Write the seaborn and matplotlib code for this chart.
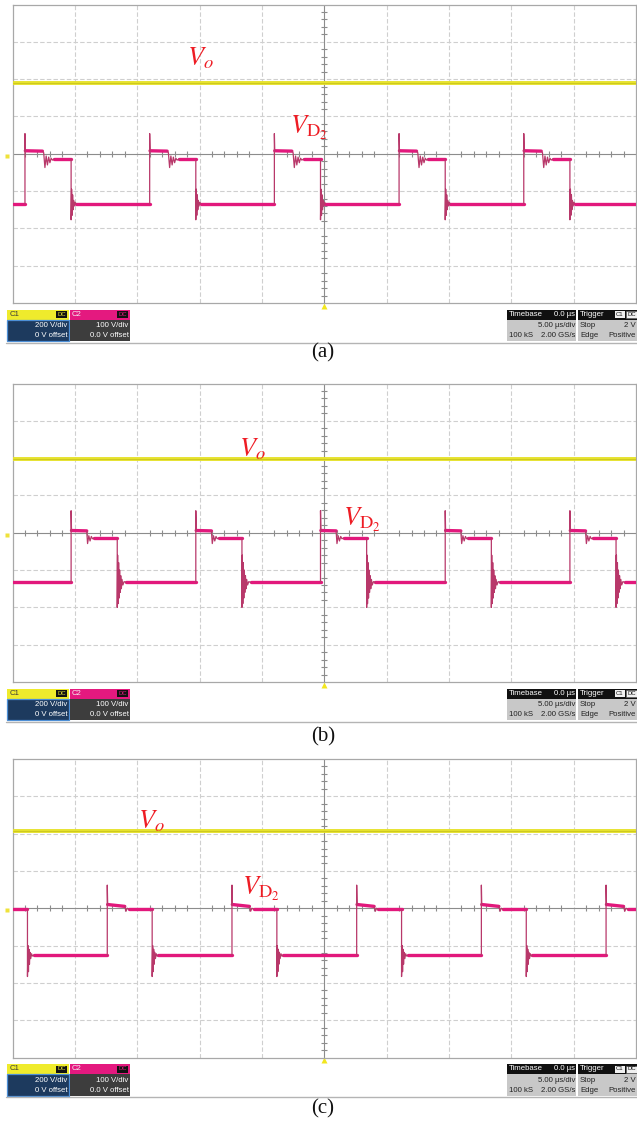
"""
Oscilloscope captures of V_o and V_D2 for three operating points, (a)-(c).
Each screen: 10 x 8 div, 5 us/div, C1 = 200 V/div, C2 = 100 V/div.
"""
import pandas as pd
import matplotlib.pyplot as plt
import matplotlib.patches as mpatches
import seaborn as sns

W, H = 637, 1125
T_SPAN = (-25.0, 25.0)      # us, centre of screen = 0 us
US_DIV = 5.0
C1_VDIV = 200.0
C2_VDIV = 100.0

CAPTIONS = ["(a)", "(b)", "(c)"]
VO_V = [380, 395, 414]            # output voltage (C1)

# switching instants of V_D2 (us)
RISE_A = [-24.0, -14.0, -4.0, 6.0, 16.0]
FALL_A = [-20.3, -10.3, -0.3, 9.7, 19.7]
RISE_B = [-20.3, -10.3, -0.3, 9.7, 19.7]
FALL_B = [-16.6, -6.6, 3.4, 13.4, 23.4]
RISE_C = [-17.4, -7.4, 2.6, 12.6, 22.6]
FALL_C = [-23.8, -13.8, -3.8, 6.2, 16.2]

LOW_V = [-134, -133, -126]        # blocking level (V)
SPIKE_UP = [54, 59, 62]           # overshoot on rising edge (V)
SPIKE_DN = [-177, -200, -183]     # overshoot on falling edge (V)

# on-state shape after a rising edge (us after edge, V)
HIGH_A_T = [0.03, 1.40, 1.50, 1.60, 1.70, 1.80, 1.90, 2.00, 2.10, 2.20, 2.35]
HIGH_A_V = [8, 7, 3, -37, -6, -30, -9, -24, -12, -17, -14]
HIGH_B_T = [0.03, 1.25, 1.32, 1.42, 1.52, 1.62, 1.72, 1.85]
HIGH_B_V = [6, 5, -29, -8, -22, -10, -16, -14]
HIGH_C_T = [0.03, 1.40, 1.50, 1.60, 1.75]
HIGH_C_V = [10, 5, -8, 0, -3]

# ringing after a falling edge (us after edge, V)
RING_A_T = [0.04, 0.08, 0.12, 0.16, 0.20, 0.26, 0.32, 0.40]
RING_A_V = [-95, -165, -110, -150, -125, -140, -130, -134]
RING_B_T = [0.03, 0.07, 0.11, 0.15, 0.19, 0.23, 0.28, 0.33, 0.38, 0.45, 0.55, 0.70]
RING_B_V = [-60, -190, -80, -175, -100, -160, -115, -150, -125, -140, -131, -133]
RING_C_T = [0.04, 0.08, 0.12, 0.16, 0.20, 0.26, 0.33, 0.40, 0.50]
RING_C_V = [-100, -170, -110, -150, -118, -135, -122, -128, -126]

# label anchors (us, div) -- left/baseline of the "V"
LABEL_VO = [(-11.0, 2.36), (-6.8, 2.05), (-14.9, 2.15)]
LABEL_VD = [(-2.75, 0.54), (1.5, 0.19), (-6.6, 0.35)]

# screen placement in pixels
SCREEN_LEFT, SCREEN_W, SCREEN_H = 12.5, 623.5, 298.5
SCREEN_TOP = [4.5, 383.5, 759.0]
CAPTION_Y = [353, 737, 1109]

YELLOW = "#e6e22c"
MAGENTA = "#e2187c"
EDGE_PINK = "#b8386a"
LABEL_RED = "#ee1c24"


def trace_pieces(rise, fall, low, up, dn, high_t, high_v, ring_t, ring_v):
    ev = sorted([(r, 1) for r in rise] + [(f, 0) for f in fall])
    level = low if ev[0][1] == 1 else high_v[-1]
    pieces = []
    t_prev = T_SPAN[0]
    for te, is_rise in ev:
        pieces.append(("flat", [t_prev, te], [level, level]))
        if is_rise:
            pieces.append(("edge", [te, te, te + high_t[0]], [level, up, high_v[0]]))
            pieces.append(("flat", [te + high_t[0], te + high_t[1]], high_v[:2]))
            pieces.append(("edge", [te + x for x in high_t[1:]], high_v[1:]))
            t_prev, level = te + high_t[-1], high_v[-1]
        else:
            pieces.append(("edge", [te, te] + [te + x for x in ring_t],
                           [level, dn] + ring_v))
            t_prev, level = te + ring_t[-1], ring_v[-1]
    pieces.append(("flat", [t_prev, T_SPAN[1]], [level, level]))

    rows = []
    for k, (kind, ts, vs) in enumerate(pieces):
        for t, v in zip(ts, vs):
            rows.append({"t": t, "div": v / C2_VDIV, "seg": k, "kind": kind})
    return pd.DataFrame(rows)


def draw_screen(ax, i, df_vd):
    ax.set_xlim(*T_SPAN)
    ax.set_ylim(-4, 4)
    ax.set_xticks([])
    ax.set_yticks([])
    for s in ax.spines.values():
        s.set_color("#a8a8a8")
        s.set_linewidth(0.9)

    # graticule
    for d in range(-3, 4):
        if d != 0:
            ax.axhline(d, color="#cfcfcf", lw=0.8, ls=(0, (4, 2)), zorder=0)
    for d in range(-4, 5):
        if d != 0:
            ax.axvline(d * US_DIV, color="#cfcfcf", lw=0.8, ls=(0, (4, 2)), zorder=0)
    ax.axhline(0, color="#8c8c8c", lw=0.8, zorder=0)
    ax.axvline(0, color="#8c8c8c", lw=0.8, zorder=0)
    minor_x = [k * 0.2 * US_DIV for k in range(-25, 26) if k % 5]
    minor_y = [k * 0.2 for k in range(-20, 21) if k % 5]
    ax.vlines(minor_x, -0.08, 0.08, color="#8c8c8c", lw=0.8, zorder=0)
    ax.hlines(minor_y, -0.24, 0.24, color="#8c8c8c", lw=0.8, zorder=0)

    # C1: V_o
    vo = VO_V[i] / C1_VDIV
    sns.lineplot(x=list(T_SPAN), y=[vo, vo], color=YELLOW, lw=2.8, ax=ax,
                 legend=False, zorder=3)
    sns.lineplot(x=list(T_SPAN), y=[vo, vo], color="#c4bf1c", lw=0.5, ax=ax,
                 legend=False, zorder=3)

    # C2: V_D2
    sns.lineplot(data=df_vd[df_vd["kind"] == "flat"], x="t", y="div", units="seg",
                 estimator=None, sort=False, color=MAGENTA, lw=2.4, ax=ax,
                 legend=False, zorder=4)
    sns.lineplot(data=df_vd[df_vd["kind"] == "edge"], x="t", y="div", units="seg",
                 estimator=None, sort=False, color=EDGE_PINK, lw=0.9, ax=ax,
                 legend=False, zorder=5)
    ax.set_xlabel("")
    ax.set_ylabel("")

    # markers: trigger position and channel ground
    ax.plot([0], [-4.08], marker="^", ms=4.5, color="#f2e61e", mec="none",
            clip_on=False)
    ax.plot([T_SPAN[0] - 0.45], [-0.05], marker="s", ms=3.5, color="#efe23a",
            mec="none", clip_on=False)

    # labels
    tx, ty = LABEL_VO[i]
    ax.text(tx, ty, r"$V_o$", color=LABEL_RED, fontsize=19, ha="left",
            va="baseline", zorder=6)
    tx, ty = LABEL_VD[i]
    ax.text(tx, ty, r"$V_{\mathrm{D}_2}$", color=LABEL_RED, fontsize=19,
            ha="left", va="baseline", zorder=6)


def box(ax, x, y, w, h, fc, ec="none", lw=0):
    ax.add_patch(mpatches.Rectangle((x, y), w, h, fc=fc, ec=ec, lw=lw))


def draw_info(ax, y0):
    small = dict(fontsize=5.6, va="center", family=["Liberation Sans Narrow", "Liberation Sans"])
    tiny = dict(fontsize=4.3, va="center", ha="center",
                family=["Liberation Sans Narrow", "Liberation Sans"])
    # C1
    box(ax, 7, y0, 62, 10, "#efeb2c")
    box(ax, 7, y0 + 10, 62, 21.5, "#1d3a5e", "#4d8fd6", 0.9)
    ax.text(9.5, y0 + 5, "C1", color="#3a3a3a", **small)
    box(ax, 56, y0 + 1.5, 11, 7, "#111111")
    ax.text(61.5, y0 + 5, "DC", color="#e8e430", **tiny)
    ax.text(67.5, y0 + 16, "200 V/div", color="white", ha="right", **small)
    ax.text(67.5, y0 + 26, "0 V offset", color="white", ha="right", **small)
    # C2
    box(ax, 69.5, y0, 60, 10, "#e4197f")
    box(ax, 69.5, y0 + 10, 60, 21.5, "#3d3d3d")
    ax.text(72, y0 + 5, "C2", color="#f4f4f4", **small)
    box(ax, 117, y0 + 1.5, 11, 7, "#111111")
    ax.text(122.5, y0 + 5, "DC", color="#e4197f", **tiny)
    ax.text(128.5, y0 + 16, "100 V/div", color="white", ha="right", **small)
    ax.text(128.5, y0 + 26, "0.0 V offset", color="white", ha="right", **small)
    # Timebase
    box(ax, 507, y0, 69, 10, "#101010")
    box(ax, 507, y0 + 10, 69, 21.5, "#c8c8c8")
    ax.text(509, y0 + 5, "Timebase", color="white", ha="left", **small)
    ax.text(575, y0 + 5, "0.0 µs", color="white", ha="right", **small)
    ax.text(575, y0 + 16, "5.00 µs/div", color="#222222", ha="right", **small)
    ax.text(509, y0 + 26, "100 kS", color="#222222", ha="left", **small)
    ax.text(575, y0 + 26, "2.00 GS/s", color="#222222", ha="right", **small)
    # Trigger
    box(ax, 578, y0, 59, 10, "#101010")
    box(ax, 578, y0 + 10, 59, 21.5, "#c8c8c8")
    ax.text(580, y0 + 5, "Trigger", color="white", ha="left", **small)
    box(ax, 615, y0 + 1.5, 10, 7, "#f0f0f0")
    ax.text(620, y0 + 5, "C1", color="#111111", **tiny)
    box(ax, 626, y0 + 1.5, 11, 7, "#f0f0f0", "#555555", 0.4)
    ax.text(631.5, y0 + 5, "DC", color="#111111", **tiny)
    ax.text(580, y0 + 16, "Stop", color="#222222", ha="left", **small)
    ax.text(636, y0 + 16, "2 V", color="#222222", ha="right", **small)
    ax.text(580, y0 + 26, "Edge", color="#222222", ha="left", **small)
    ax.text(636, y0 + 26, "Positive", color="#222222", ha="right", **small)
    # separator under the status bar
    ax.plot([6, 637], [y0 + 33, y0 + 33], color="#b4b4b4", lw=1.0)


def main():
    sns.set_style("white")
    plt.rcParams["font.family"] = ["Liberation Sans", "DejaVu Sans"]
    plt.rcParams["mathtext.fontset"] = "stix"

    traces = [
        trace_pieces(RISE_A, FALL_A, LOW_V[0], SPIKE_UP[0], SPIKE_DN[0],
                     HIGH_A_T, HIGH_A_V, RING_A_T, RING_A_V),
        trace_pieces(RISE_B, FALL_B, LOW_V[1], SPIKE_UP[1], SPIKE_DN[1],
                     HIGH_B_T, HIGH_B_V, RING_B_T, RING_B_V),
        trace_pieces(RISE_C, FALL_C, LOW_V[2], SPIKE_UP[2], SPIKE_DN[2],
                     HIGH_C_T, HIGH_C_V, RING_C_T, RING_C_V),
    ]

    fig = plt.figure(figsize=(W / 100, H / 100), dpi=100)
    fig.patch.set_facecolor("white")

    # pixel-space overlay for status bars and captions
    over = fig.add_axes([0, 0, 1, 1])
    over.set_xlim(0, W)
    over.set_ylim(H, 0)
    over.axis("off")

    for i, top in enumerate(SCREEN_TOP):
        bottom = top + SCREEN_H
        ax = fig.add_axes([SCREEN_LEFT / W, 1 - bottom / H, SCREEN_W / W, SCREEN_H / H])
        draw_screen(ax, i, traces[i])
        draw_info(over, bottom + 6.5)
        over.text(323, CAPTION_Y[i], CAPTIONS[i], fontsize=15, ha="center",
                  va="center", family=["Liberation Serif", "DejaVu Serif"], color="#111111")

    fig.savefig("out.png", dpi=100)


if __name__ == "__main__":
    main()
